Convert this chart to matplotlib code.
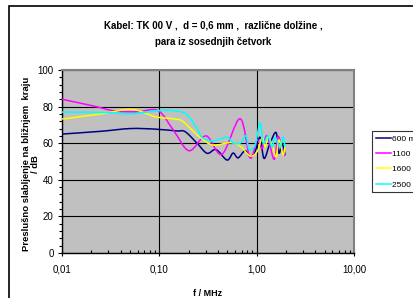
import numpy as np
import matplotlib
matplotlib.use('Agg')
import matplotlib.pyplot as plt
from matplotlib.path import Path
from matplotlib.patches import PathPatch, Rectangle
from matplotlib.lines import Line2D
from matplotlib.ticker import FixedLocator, FixedFormatter, MultipleLocator

plt.rcParams['font.family'] = ['Liberation Sans', 'DejaVu Sans']

# readings: f in MHz, attenuation in dB
f_600 = [0.01, 0.025, 0.05, 0.09, 0.15, 0.184, 0.244, 0.309, 0.383, 0.496, 0.572,
         0.644, 0.76, 0.855, 0.963, 1.084, 1.19, 1.373, 1.582, 1.70, 1.82, 1.958]
db_600 = [65, 66.5, 68, 67.7, 66.7, 66.3, 60, 54.5, 56.5, 50.8, 54.6,
          52, 55.9, 52.6, 55.4, 63.2, 51.7, 60, 65.8, 54.5, 60, 53.6]

f_1100 = [0.01, 0.02, 0.035, 0.06, 0.097, 0.14, 0.202, 0.302, 0.44, 0.675, 0.855,
          1.01, 1.137, 1.279, 1.51, 1.66, 1.82, 1.958]
db_1100 = [84, 80.6, 77.6, 77.2, 77.8, 67, 55.9, 64, 54, 73.4, 52,
           61.7, 57.2, 64, 51.2, 63.6, 56.8, 53]

f_1600 = [0.01, 0.025, 0.052, 0.09, 0.145, 0.175, 0.262, 0.356, 0.533, 0.675, 0.855,
          1.01, 1.137, 1.22, 1.31, 1.44, 1.582, 1.70, 1.867, 1.958]
db_1600 = [73.2, 76, 78.5, 74.5, 73.2, 71.8, 63.2, 59, 60.3, 58.5, 53,
           55.4, 63, 58, 63.6, 59, 52.6, 61.7, 53.6, 59]

f_2500 = [0.01, 0.03, 0.05, 0.09, 0.12, 0.184, 0.244, 0.275, 0.356, 0.496, 0.572,
          0.675, 0.778, 0.835, 0.963, 1.084, 1.164, 1.31, 1.44, 1.545, 1.74, 1.867, 1.958]
db_2500 = [77, 76.7, 76, 77.6, 78, 76.3, 68, 63.2, 61.2, 63.2, 60.3,
           60, 64, 56.7, 59, 71.2, 60, 64, 57.7, 63.2, 58, 63.2, 57.7]

labels = ['600 m', '1100 m', '1600 m', '2500 m']
colors = ['#000080', '#ff00ff', '#ffff00', '#00ffff']
x_ticks = [0.01, 0.1, 1, 10]
x_ticklabels = ['0,01', '0,10', '1,00', '10,00']


def smooth_path(fx, fy):
    # Excel-like smoothed line: Catmull-Rom as cubic Bezier in log-x space
    u = np.log10(np.asarray(fx, float))
    v = np.asarray(fy, float)
    n = len(u)
    verts = [(u[0], v[0])]
    codes = [Path.MOVETO]
    for i in range(n - 1):
        i0, i3 = max(i - 1, 0), min(i + 2, n - 1)
        c1 = (u[i] + (u[i + 1] - u[i0]) / 6, v[i] + (v[i + 1] - v[i0]) / 6)
        c2 = (u[i + 1] - (u[i3] - u[i]) / 6, v[i + 1] - (v[i3] - v[i]) / 6)
        verts += [c1, c2, (u[i + 1], v[i + 1])]
        codes += [Path.CURVE4] * 3
    verts = np.array(verts)
    verts[:, 0] = 10 ** verts[:, 0]
    return Path(verts, codes)


fig = plt.figure(figsize=(4.14, 2.98), dpi=100)
ax = fig.add_axes([62 / 414, 45 / 298, 292 / 414, 183 / 298])
ax.set_facecolor('#c0c0c0')
ax.set_xscale('log')
ax.set_xlim(0.01, 10)
ax.set_ylim(0, 100)

series = [(f_600, db_600), (f_1100, db_1100), (f_1600, db_1600), (f_2500, db_2500)]
handles = []
for (fx, fy), c, lab in zip(series, colors, labels):
    ax.add_patch(PathPatch(smooth_path(fx, fy), fill=False, edgecolor=c, lw=1.1, zorder=3))
    handles.append(Line2D([], [], color=c, lw=1.1, label=lab))

ax.xaxis.set_major_locator(FixedLocator(x_ticks))
ax.xaxis.set_major_formatter(FixedFormatter(x_ticklabels))
minor = [m * d for d in [0.01, 0.1, 1] for m in range(2, 10)]
ax.xaxis.set_minor_locator(FixedLocator(minor))
ax.xaxis.set_minor_formatter(FixedFormatter([''] * len(minor)))
ax.yaxis.set_major_locator(MultipleLocator(20))
ax.yaxis.set_minor_locator(MultipleLocator(4))

ax.grid(True, which='major', color='black', lw=0.8)
ax.set_axisbelow(True)
ax.tick_params(axis='x', which='major', direction='inout', length=4, width=0.8,
               labelsize=7, pad=6)
ax.tick_params(axis='x', which='minor', direction='in', length=2.5, width=0.8)
ax.tick_params(axis='y', which='major', direction='out', length=3, width=0.8,
               labelsize=7, pad=3)
ax.tick_params(axis='y', which='minor', direction='out', length=2, width=0.8)

for s in ['left', 'bottom']:
    ax.spines[s].set_color('black')
    ax.spines[s].set_linewidth(1)
for s in ['top', 'right']:
    ax.spines[s].set_color('#808080')
    ax.spines[s].set_linewidth(1.5)

fig.text(213 / 414, 1 - 34 / 298,
         'Kabel: TK 00 V ,  d = 0,6 mm ,  različne dolžine ,\npara iz sosednjih četvork',
         ha='center', va='center', fontsize=7, fontweight='bold', linespacing=1.8)
fig.text(31 / 414, 1 - 164 / 298, 'Preslušno slabljenje na bližnjem  kraju\n/ dB',
         rotation=90, ha='center', va='center', fontsize=6.8, fontweight='bold',
         multialignment='center', linespacing=1.1)
fig.text(208 / 414, 1 - 293 / 298, 'f / MHz', ha='center', va='center',
         fontsize=6.5, fontweight='bold')

leg = fig.legend(handles=handles, loc='upper left',
                 bbox_to_anchor=(372 / 414, 1 - 131 / 298), fontsize=6,
                 frameon=True, fancybox=False, handlelength=1.8, handletextpad=0.1,
                 borderpad=0.45, labelspacing=0.9, borderaxespad=0)
leg.get_frame().set_edgecolor('black')
leg.get_frame().set_linewidth(0.8)

fig.add_artist(Rectangle((9 / 414, -0.1), 1.2, 1.1 - 6 / 298, transform=fig.transFigure,
                         fill=False, edgecolor='black', lw=1.2))

fig.savefig('out.png', dpi=100)
